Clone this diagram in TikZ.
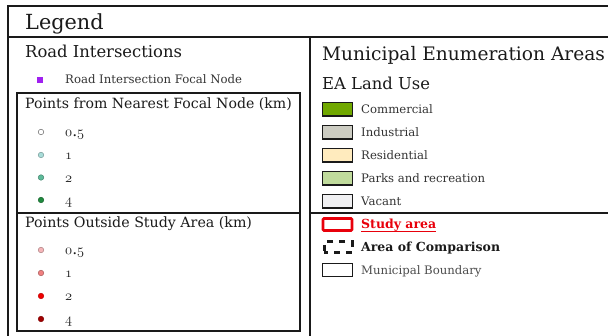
\documentclass[tikz,border=0pt]{standalone}
\usepackage{fontspec}
\setmainfont{DejaVu Serif}
\usepackage{xcolor}
\definecolor{ink}{HTML}{1A1A1A}
\definecolor{soft}{HTML}{333333}
\definecolor{focal}{HTML}{A020F0}
\definecolor{gA}{HTML}{FFFFFF}
\definecolor{gB}{HTML}{A8DCD8}
\definecolor{gC}{HTML}{5DBB9A}
\definecolor{gD}{HTML}{1F8A3E}
\definecolor{rA}{HTML}{F5B5B8}
\definecolor{rB}{HTML}{F08080}
\definecolor{rC}{HTML}{F00000}
\definecolor{rD}{HTML}{A00000}
\definecolor{luCom}{HTML}{70A800}
\definecolor{luInd}{HTML}{CCCCC2}
\definecolor{luRes}{HTML}{FFEBBE}
\definecolor{luPark}{HTML}{C0DB9C}
\definecolor{luVac}{HTML}{F0F0F2}
\definecolor{study}{HTML}{E8000B}
\newcommand{\osn}[1]{{\usefont{OML}{cmm}{m}{it}#1}}
\begin{document}
\begin{tikzpicture}[x=1pt,y=-1pt,
  frame/.style={line width=1.6pt, draw=ink},
  txt/.style={anchor=base west, inner sep=0pt, text=ink},
  small/.style={txt, text=soft, font=\fontsize{11.7}{14}\selectfont},
  num/.style={txt, text=ink, font=\fontsize{15.5}{16}\selectfont},
  lu/.style={txt, text=soft, font=\fontsize{11.7}{16}\selectfont},
  patch/.style={draw=ink, line width=1.5pt, minimum width=30pt, minimum height=13.5pt, inner sep=0pt},
  dot/.style={circle, inner sep=0pt, minimum size=5.5pt, line width=0.5pt}]
\useasboundingbox (0,0) rectangle (608,336);
% frame
\draw[frame] (610,6) -- (8,6) -- (8,340);
\draw[frame] (8,37) -- (610,37);
\draw[frame] (310,37) -- (310,340);
\draw[frame] (17,93) rectangle (300,331);
\draw[frame] (17,213) -- (300,213);
\draw[frame] (310,213) -- (610,213);
% header
\node[txt, font=\fontsize{20.8}{24}\selectfont] (legend) at (25,30) {Legend};
% road intersections
\node[txt, font=\fontsize{16.4}{20}\selectfont] (road) at (25,58) {Road Intersections};
\node[fill=focal, minimum size=6pt, inner sep=0pt] (fsq) at (40,80) {};
\node[small] (fl) at (65,84) {Road Intersection Focal Node};
% nearest focal node
\node[txt, font=\fontsize{14.1}{18}\selectfont] (near) at (25,109) {Points from Nearest Focal Node (km)};
\node[dot, fill=gA, draw=black!60] (g1) at (41,132) {};
\node[dot, fill=gB, draw=gB!70!black] (g2) at (41,155) {};
\node[dot, fill=gC, draw=gC!70!black] (g3) at (41,177.5) {};
\node[dot, fill=gD, draw=gD!70!black] (g4) at (41,200) {};
\node[num] (gl1) at (65,137) {\osn{0}.\osn{5}};
\node[num] (gl2) at (65,160) {\osn{1}};
\node[num] (gl3) at (65,182.5) {\osn{2}};
\node[num] (gl4) at (65,205) {\osn{4}};
% outside study area
\node[txt, font=\fontsize{14.2}{18}\selectfont] (outs) at (25,228) {Points Outside Study Area (km)};
\node[dot, fill=rA, draw=rA!70!black] (r1) at (41,250) {};
\node[dot, fill=rB, draw=rB!70!black] (r2) at (41,273) {};
\node[dot, fill=rC, draw=rC!80!black] (r3) at (41,296) {};
\node[dot, fill=rD, draw=rD!80!black] (r4) at (41,319) {};
\node[num] (rl1) at (65,255) {\osn{0}.\osn{5}};
\node[num] (rl2) at (65,278) {\osn{1}};
\node[num] (rl3) at (65,301) {\osn{2}};
\node[num] (rl4) at (65,324) {\osn{4}};
% right column
\node[txt, font=\fontsize{18.6}{24}\selectfont] (mun) at (322,61) {Municipal Enumeration Areas};
\node[txt, font=\fontsize{16.4}{22}\selectfont] (ea) at (322,90) {EA Land Use};
\node[patch, fill=luCom] (p1) at (337.5,109.5) {};
\node[patch, fill=luInd] (p2) at (337.5,132.5) {};
\node[patch, fill=luRes] (p3) at (337.5,155.5) {};
\node[patch, fill=luPark] (p4) at (337.5,178.5) {};
\node[patch, fill=luVac] (p5) at (337.5,201.5) {};
\node[lu] (pl1) at (361,114) {Commercial};
\node[lu] (pl2) at (361,137) {Industrial};
\node[lu] (pl3) at (361,160) {Residential};
\node[lu] (pl4) at (361,183) {Parks and recreation};
\node[lu] (pl5) at (361,206) {Vacant};
\node[patch, draw=study, line width=2.6pt, rounded corners=1pt, minimum height=12pt, minimum width=29pt] (s1) at (337.5,224.5) {};
\node[patch, draw=ink, line width=3pt, dash pattern=on 6pt off 6pt, dash phase=2pt, minimum height=11pt, minimum width=28pt] (s2) at (338,247.5) {};
\node[patch, fill=white, line width=1.4pt] (s3) at (337.5,270) {};
\node[txt, text=study, font=\fontsize{12.5}{16}\selectfont\bfseries] (sl1) at (361,229) {Study area};
\draw[study, line width=0.8pt] ([yshift=-2pt]sl1.base west) -- ([yshift=-2pt]sl1.base east);
\node[txt, font=\fontsize{12.5}{16}\selectfont\bfseries] (sl2) at (361,252) {Area of Comparison};
\node[lu, text=black!70] (sl3) at (361,275) {Municipal Boundary};
\end{tikzpicture}
\end{document}
